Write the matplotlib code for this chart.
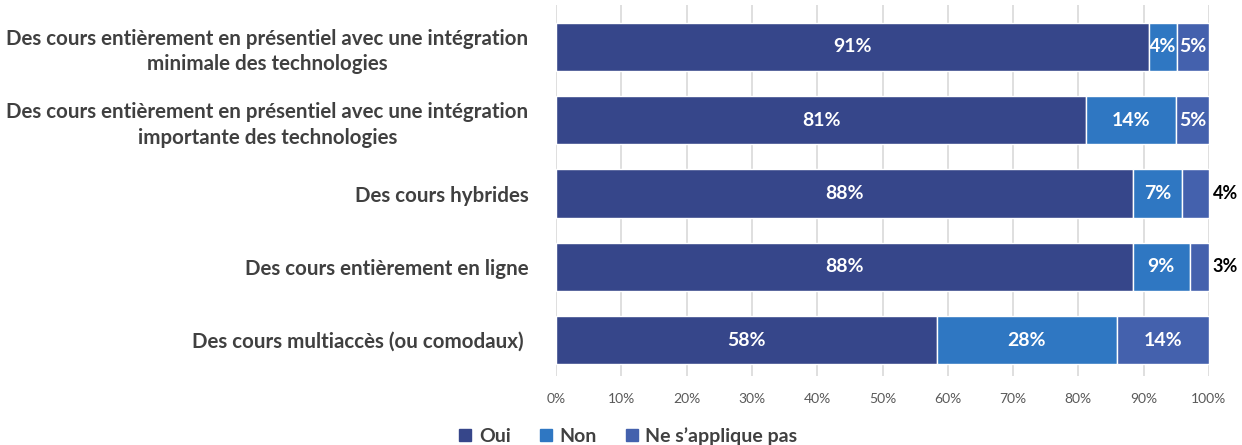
import matplotlib.pyplot as plt
from matplotlib.patches import Patch

plt.rcParams['font.family'] = ['Lato', 'DejaVu Sans']

categories = [
    "Des cours entièrement en présentiel avec une intégration\nminimale des technologies",
    "Des cours entièrement en présentiel avec une intégration\nimportante des technologies",
    "Des cours hybrides",
    "Des cours entièrement en ligne",
    "Des cours multiaccès (ou comodaux) ",
]
oui = [90.8, 81.2, 88.4, 88.3, 58.3]
non = [4.3, 13.8, 7.4, 8.8, 27.6]
na = [4.9, 5.0, 4.2, 2.9, 14.1]
series_names = ["Oui", "Non", "Ne s\u2019applique pas"]
colors = ["#36468A", "#2F77C2", "#4461AD"]
outside = [False, False, True, True, False]  # label du 3e segment hors barre

fig = plt.figure(figsize=(12.42, 4.45), dpi=100)
ax = fig.add_axes([0.4477, 0.155, 0.5257, 0.834])

y = list(range(len(categories)))
left = [0] * len(categories)
for vals, col, name in zip([oui, non, na], colors, series_names):
    bars = ax.barh(y, vals, left=left, height=0.655, color=col,
                   edgecolor="white", linewidth=1, label=name)
    for i, (b, v) in enumerate(zip(bars, vals)):
        txt = f"{round(v)}%"
        cy = b.get_y() + b.get_height() / 2
        if name == series_names[2] and outside[i]:
            ax.text(100.55, cy, txt, ha="left", va="center", color="black",
                    fontsize=13, fontweight="bold", clip_on=False)
        else:
            ax.text(b.get_x() + b.get_width() / 2, cy, txt, ha="center",
                    va="center", color="white", fontsize=14, fontweight="bold")
    left = [l + v for l, v in zip(left, vals)]

ax.set_xlim(0, 100)
ax.set_ylim(4.49, -0.573)
ax.set_xticks(range(0, 101, 10))
ax.set_xticklabels([f"{t}%" for t in range(0, 101, 10)], fontsize=10, color="#595959")
ax.tick_params(axis="x", length=0, pad=12)
ax.set_yticks(y)
ax.set_yticklabels(categories, fontsize=14.8, fontweight="bold", color="#404040",
                   multialignment="center", linespacing=1.35)
ax.tick_params(axis="y", length=0, pad=20)
ax.grid(axis="x", color="#D9D9D9", linewidth=1.2)
ax.set_axisbelow(True)
for s in ax.spines.values():
    s.set_visible(False)

handles = [Patch(color=c, label=n) for c, n in zip(colors, series_names)]
leg = fig.legend(handles=handles, loc="center", bbox_to_anchor=(0.506, 0.02),
                 ncol=3, frameon=False, handlelength=0.6, handleheight=0.6,
                 handletextpad=0.4, columnspacing=1.5,
                 prop={"size": 14, "weight": "bold"})
for t in leg.get_texts():
    t.set_color("#404040")

fig.savefig("out.png", dpi=100)
